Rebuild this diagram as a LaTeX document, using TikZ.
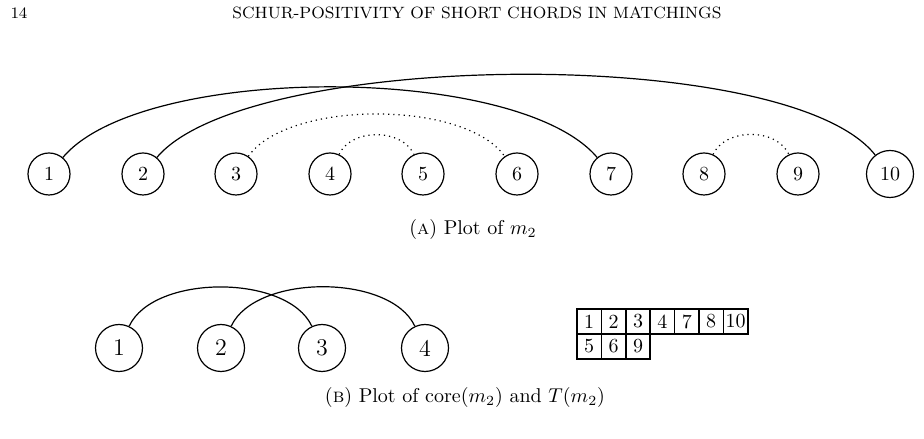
\documentclass[tikz,border=0pt]{standalone}
\usepackage{amsmath}
\usepackage{amssymb}
\usepackage{tikz}

\tikzset{
  vertex/.style={draw, circle, semithick, minimum size=21pt, inner sep=1pt},
  bigvertex/.style={draw, circle, semithick, minimum size=23.5pt, inner sep=1pt, font=\fontsize{12}{14}\selectfont},
  chord/.style={semithick},
  shortchord/.style={semithick, dotted},
  cell/.style={draw, line width=0.8pt, minimum width=12.2pt, minimum height=12.5pt, inner sep=0pt}
}

\begin{document}
\begin{tikzpicture}[x=0.5pt, y=0.5pt]
\useasboundingbox (0,0) rectangle (924,438);

% En-tete de la page
\node (page) at (19,425) {\footnotesize 14};
\node (titre) at (477,425) {\fontsize{8.2}{10}\selectfont SCHUR-POSITIVITY OF SHORT CHORDS IN MATCHINGS};

% (A) les sommets de m_2
\node[vertex] (m1) at (49,264) {1};
\node[vertex] (m2) at (143,264) {2};
\node[vertex] (m3) at (236,264) {3};
\node[vertex] (m4) at (330,264) {4};
\node[vertex] (m5) at (423,264) {5};
\node[vertex] (m6) at (517,264) {6};
\node[vertex] (m7) at (611,264) {7};
\node[vertex] (m8) at (704,264) {8};
\node[vertex] (m9) at (798,264) {9};
\node[vertex, minimum size=23.5pt] (m10) at (890,264) {10};

% Cordes longues
\draw[chord] (m1) to[out=50, in=130, looseness=0.59] (m7);
\draw[chord] (m2) to[out=50, in=128, looseness=0.5] (m10);

% Cordes courtes (pointillees)
\draw[shortchord] (m3) to[out=55, in=125, looseness=0.69] (m6);
\draw[shortchord] (m4) to[out=65, in=115] (m5);
\draw[shortchord] (m8) to[out=65, in=115] (m9);

\node (capA) at (473,208) {(\textsc{a}) Plot of $m_2$};

% (B) le coeur de m_2
\node[bigvertex] (c1) at (119,90) {1};
\node[bigvertex] (c2) at (221,90) {2};
\node[bigvertex] (c3) at (322,90) {3};
\node[bigvertex] (c4) at (425,90) {4};

\draw[chord] (c1) to[out=65, in=115, looseness=0.81] (c3);
\draw[chord] (c2) to[out=65, in=115, looseness=0.81] (c4);

% Tableau T(m_2)
\node[cell] (t1) at (589.2,116.5) {1};
\node[cell] (t2) at (613.6,116.5) {2};
\node[cell] (t3) at (638,116.5) {3};
\node[cell] (t4) at (662.4,116.5) {4};
\node[cell] (t7) at (686.8,116.5) {7};
\node[cell] (t8) at (711.2,116.5) {8};
\node[cell] (t10) at (735.6,116.5) {10};
\node[cell] (t5) at (589.2,91.5) {5};
\node[cell] (t6) at (613.6,91.5) {6};
\node[cell] (t9) at (638,91.5) {9};

\node (capB) at (465,40) {(\textsc{b}) Plot of core$(m_2)$ and $T(m_2)$};

\end{tikzpicture}
\end{document}
